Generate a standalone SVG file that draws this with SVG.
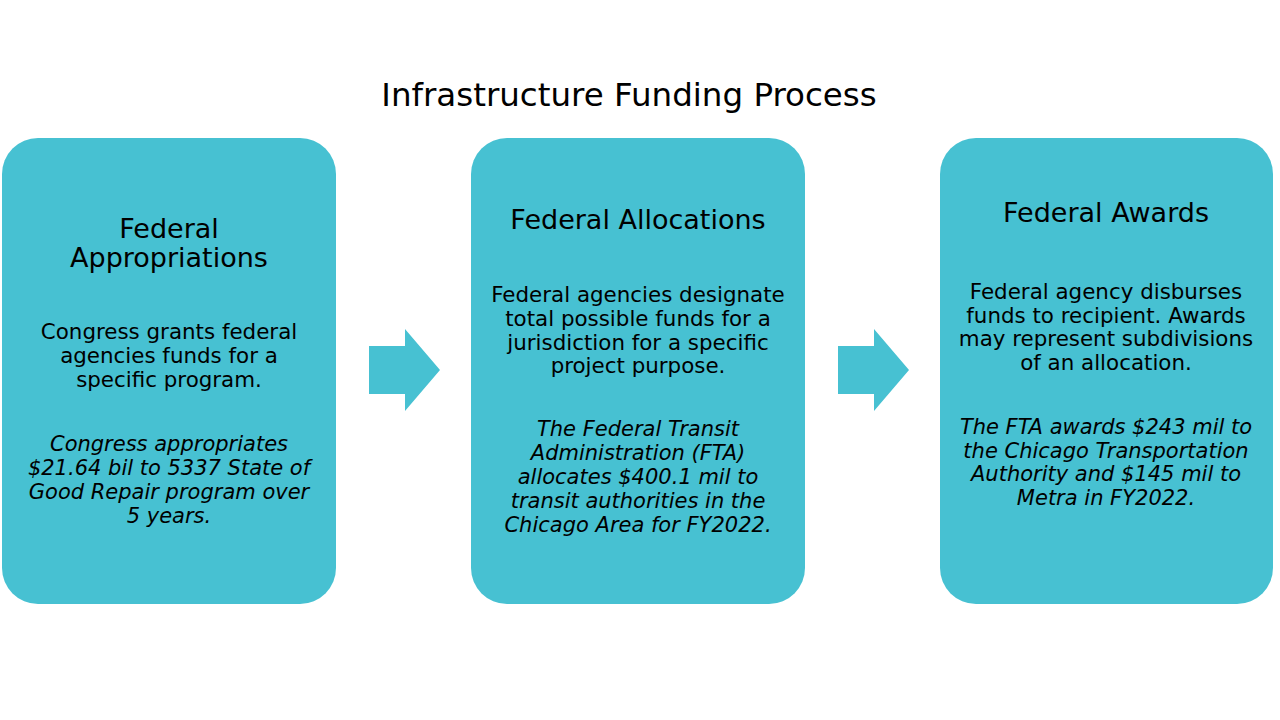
<svg xmlns="http://www.w3.org/2000/svg" width="1280" height="720" viewBox="0 0 1280 720">
<style>
.box{fill:#47c1d2}
.arr{fill:#47c1d2}
text{font-family:"DejaVu Sans","Noto Sans",sans-serif;fill:#000;text-anchor:middle}
.t{font-size:32.5px}
.h{font-size:27px}
.b{font-size:21.4px}
.i{font-size:21px;font-style:italic}
</style>
<rect width="1280" height="720" fill="#fff"/>
<text class="t" x="629" y="106">Infrastructure Funding Process</text>
<g id="node-appropriations">
<rect class="box" x="2" y="138" width="334" height="466" rx="36"/>
<text class="h" x="169" y="238">Federal</text>
<text class="h" x="169" y="267">Appropriations</text>
<text class="b" x="169" y="339">Congress grants federal</text>
<text class="b" x="169" y="363">agencies funds for a</text>
<text class="b" x="169" y="387">specific program.</text>
<text class="i" x="169" y="451">Congress appropriates</text>
<text class="i" x="169" y="475">$21.64 bil to 5337 State of</text>
<text class="i" x="169" y="499">Good Repair program over</text>
<text class="i" x="169" y="523">5 years.</text>
</g>
<g id="node-allocations">
<rect class="box" x="471" y="138" width="334" height="466" rx="36"/>
<text class="h" x="638" y="229">Federal Allocations</text>
<text class="b" x="638" y="302">Federal agencies designate</text>
<text class="b" x="638" y="326">total possible funds for a</text>
<text class="b" x="638" y="350">jurisdiction for a specific</text>
<text class="b" x="638" y="373">project purpose.</text>
<text class="i" x="638" y="436">The Federal Transit</text>
<text class="i" x="638" y="460">Administration (FTA)</text>
<text class="i" x="638" y="484">allocates $400.1 mil to</text>
<text class="i" x="638" y="508">transit authorities in the</text>
<text class="i" x="638" y="532">Chicago Area for FY2022.</text>
</g>
<g id="node-awards">
<rect class="box" x="940" y="138" width="333" height="466" rx="36"/>
<text class="h" x="1106" y="222">Federal Awards</text>
<text class="b" x="1106" y="299">Federal agency disburses</text>
<text class="b" x="1106" y="323">funds to recipient. Awards</text>
<text class="b" x="1106" y="346">may represent subdivisions</text>
<text class="b" x="1106" y="370">of an allocation.</text>
<text class="i" x="1106" y="434">The FTA awards $243 mil to</text>
<text class="i" x="1106" y="458">the Chicago Transportation</text>
<text class="i" x="1106" y="481">Authority and $145 mil to</text>
<text class="i" x="1106" y="505">Metra in FY2022.</text>
</g>
<g id="connectors">
<polygon class="arr" points="369,346 405,346 405,329 440,370 405,411 405,394 369,394"/>
<polygon class="arr" points="838,346 874,346 874,329 909,370 874,411 874,394 838,394"/>
</g>
</svg>
